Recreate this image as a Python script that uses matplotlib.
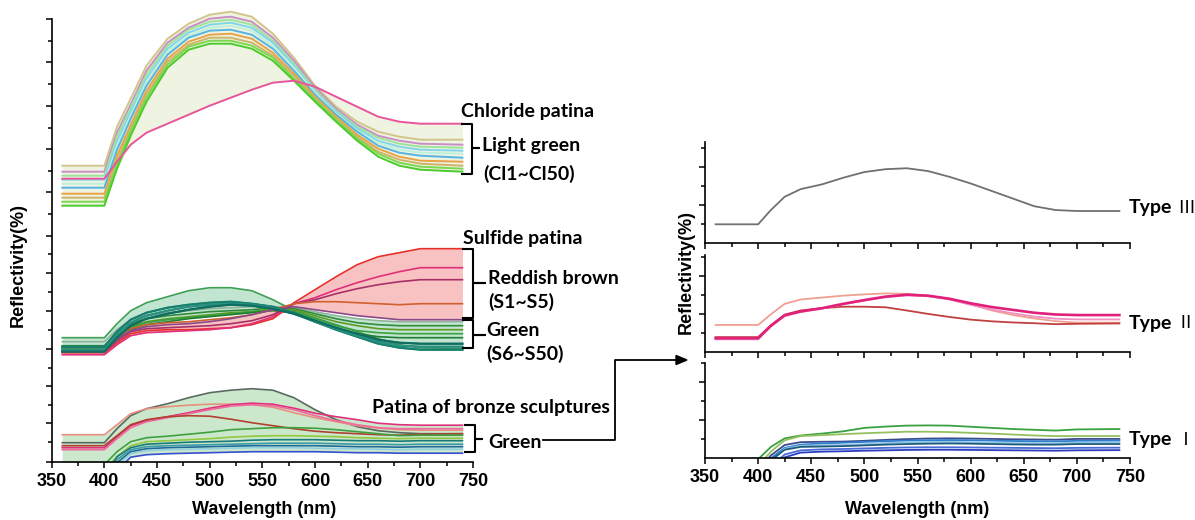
import numpy as np
import matplotlib.pyplot as plt
from matplotlib.lines import Line2D

W, H = 1195, 520

# wavelength grid (nm) used by all curves
wavelength = [360, 400, 412, 425, 440, 460, 480, 500, 520, 540, 560, 580, 600, 620, 640, 660, 680, 700, 740]

# ---- left panel: chloride patina, light green (Cl1~Cl50), top to bottom
cl_tan = [29.6, 29.6, 33.5, 36.3, 39.6, 42.3, 43.8, 44.7, 45.0, 44.5, 42.8, 40.4, 37.6, 35.5, 34.0, 33.0, 32.5, 32.2, 32.2]
cl_lilac = [29.0, 29.0, 32.9, 35.7, 39.1, 41.9, 43.4, 44.3, 44.5, 44.0, 42.4, 40.1, 37.4, 35.3, 33.7, 32.6, 32.1, 31.8, 31.7]
cl_lightgreen = [28.6, 28.6, 32.5, 35.4, 38.7, 41.6, 43.2, 44.0, 44.2, 43.7, 42.1, 39.8, 37.2, 35.1, 33.5, 32.4, 31.8, 31.5, 31.4]
cl_cyan = [28.2, 28.2, 32.0, 35.0, 38.3, 41.3, 42.9, 43.7, 43.9, 43.4, 41.9, 39.6, 37.0, 35.0, 33.3, 32.1, 31.5, 31.2, 31.1]
cl_mint = [27.8, 27.8, 31.6, 34.6, 38.0, 41.0, 42.6, 43.4, 43.6, 43.1, 41.6, 39.4, 36.9, 34.8, 33.1, 31.9, 31.2, 30.9, 30.8]
cl_blue = [27.4, 27.4, 31.2, 34.3, 37.6, 40.7, 42.4, 43.1, 43.2, 42.7, 41.3, 39.1, 36.7, 34.7, 33.0, 31.6, 30.9, 30.6, 30.4]
cl_orange = [26.8, 26.8, 30.6, 33.7, 37.1, 40.3, 42.0, 42.7, 42.8, 42.3, 40.9, 38.8, 36.5, 34.5, 32.7, 31.3, 30.5, 30.1, 30.0]
cl_khaki = [26.4, 26.4, 30.1, 33.3, 36.7, 40.0, 41.7, 42.4, 42.4, 41.9, 40.6, 38.6, 36.3, 34.3, 32.5, 31.0, 30.2, 29.8, 29.6]
cl_green = [26.0, 26.0, 29.7, 33.0, 36.4, 39.7, 41.5, 42.1, 42.1, 41.6, 40.4, 38.3, 36.2, 34.2, 32.3, 30.8, 29.9, 29.5, 29.3]
cl_brightgreen = [25.6, 25.6, 29.3, 32.6, 36.0, 39.4, 41.2, 41.8, 41.8, 41.3, 40.1, 38.1, 36.0, 34.0, 32.1, 30.5, 29.6, 29.2, 29.0]
cl_pink = [28.3, 28.3, 30.0, 31.7, 32.9, 33.8, 34.7, 35.6, 36.4, 37.2, 37.9, 38.1, 37.5, 36.5, 35.5, 34.5, 34.0, 33.8, 33.8]

# ---- left panel: sulfide patina, green (S6~S50)
s_green_top = [12.4, 12.4, 13.8, 15.1, 15.9, 16.5, 17.1, 17.4, 17.4, 17.1, 16.2, 15.1, 14.4, 13.7, 13.0, 12.3, 11.7, 11.4, 11.3]
s_grey = [12.0, 12.0, 13.2, 14.2, 14.6, 14.9, 15.1, 15.3, 15.4, 15.5, 15.5, 15.4, 15.0, 14.6, 14.3, 14.1, 14.0, 14.0, 14.0]
s_green_a = [11.6, 11.6, 12.8, 13.8, 14.3, 14.6, 14.8, 15.0, 15.1, 15.2, 15.4, 15.3, 14.8, 14.3, 13.9, 13.7, 13.6, 13.6, 13.6]
s_olive = [11.4, 11.4, 12.6, 13.5, 14.0, 14.3, 14.5, 14.7, 14.9, 15.0, 15.3, 15.2, 14.6, 14.0, 13.6, 13.3, 13.2, 13.2, 13.2]
s_green_b = [11.3, 11.3, 12.5, 13.4, 13.9, 14.2, 14.4, 14.6, 14.8, 15.0, 15.2, 15.0, 14.3, 13.6, 13.1, 12.9, 12.8, 12.8, 12.8]
s_green_c = [11.1, 11.1, 12.3, 13.2, 13.7, 14.0, 14.3, 14.5, 14.7, 14.9, 15.1, 14.9, 14.1, 13.3, 12.8, 12.5, 12.4, 12.4, 12.4]
s_teal_a = [11.5, 11.5, 13.0, 14.2, 14.9, 15.4, 15.7, 15.9, 16.0, 15.8, 15.5, 14.9, 14.0, 13.2, 12.5, 11.8, 11.4, 11.2, 11.2]
s_teal_b = [11.2, 11.2, 12.7, 13.9, 14.6, 15.1, 15.5, 15.7, 15.8, 15.7, 15.4, 14.8, 14.0, 13.3, 12.6, 12.0, 11.6, 11.5, 11.5]
s_teal_c = [11.0, 11.0, 12.4, 13.6, 14.3, 14.8, 15.2, 15.5, 15.7, 15.6, 15.3, 14.8, 14.1, 13.4, 12.8, 12.2, 11.9, 11.8, 11.8]

# ---- left panel: sulfide patina, reddish brown (S1~S5)
s_red = [10.9, 10.9, 11.9, 12.8, 13.1, 13.2, 13.2, 13.3, 13.4, 13.7, 14.3, 15.9, 17.2, 18.5, 19.7, 20.5, 20.9, 21.3, 21.3]
s_magenta = [10.7, 10.7, 11.7, 12.6, 12.9, 13.0, 13.1, 13.2, 13.4, 13.8, 14.5, 15.8, 16.4, 17.2, 17.9, 18.5, 19.0, 19.4, 19.4]
s_plum = [11.0, 11.0, 12.1, 13.0, 13.3, 13.4, 13.5, 13.6, 13.8, 14.1, 14.7, 15.8, 16.2, 16.8, 17.3, 17.7, 18.0, 18.2, 18.2]
s_brown = [11.2, 11.2, 12.3, 13.3, 13.7, 13.9, 14.0, 14.2, 14.4, 14.7, 15.2, 15.8, 16.0, 16.0, 15.9, 15.8, 15.7, 15.8, 15.8]
s_purple = [11.1, 11.1, 12.2, 13.1, 13.5, 13.7, 13.8, 14.0, 14.3, 14.7, 15.2, 15.5, 15.2, 14.9, 14.6, 14.4, 14.2, 14.2, 14.2]

# ---- left panel: patina of bronze sculptures (green)
b_grey = [1.9, 1.9, 3.3, 4.6, 5.3, 5.8, 6.4, 6.9, 7.15, 7.3, 7.15, 6.4, 5.2, 4.2, 3.5, 3.1, 2.9, 2.8, 2.8]
b_salmon = [2.7, 2.7, 3.7, 4.8, 5.3, 5.5, 5.65, 5.75, 5.75, 5.7, 5.45, 4.9, 4.4, 4.0, 3.6, 3.35, 3.2, 3.15, 3.15]
b_magenta = [1.4, 1.4, 2.5, 3.6, 4.1, 4.5, 4.9, 5.35, 5.7, 5.85, 5.75, 5.35, 4.85, 4.5, 4.2, 3.85, 3.7, 3.65, 3.65]
b_pink = [1.2, 1.2, 2.3, 3.4, 4.0, 4.4, 4.8, 5.2, 5.55, 5.7, 5.6, 5.2, 4.6, 4.1, 3.7, 3.4, 3.3, 3.3, 3.3]
b_brown = [1.6, 1.6, 2.6, 3.7, 4.2, 4.5, 4.6, 4.55, 4.25, 3.9, 3.6, 3.3, 3.05, 2.9, 2.8, 2.7, 2.65, 2.75, 2.8]
b_green = [-0.3, -0.3, 1.0, 2.0, 2.4, 2.55, 2.75, 2.95, 3.2, 3.3, 3.4, 3.4, 3.35, 3.2, 3.0, 2.8, 2.6, 2.65, 2.65]
b_lightgreen = [-0.8, -0.8, 0.5, 1.6, 2.0, 2.1, 2.2, 2.3, 2.45, 2.55, 2.6, 2.6, 2.55, 2.5, 2.4, 2.35, 2.3, 2.35, 2.35]
b_teal_a = [-1.5, -1.5, 0.5, 1.4, 1.75, 1.85, 1.95, 2.0, 2.05, 2.15, 2.2, 2.2, 2.2, 2.15, 2.1, 2.1, 2.05, 2.1, 2.1]
b_teal_b = [-1.8, -1.8, 0.2, 1.2, 1.5, 1.6, 1.65, 1.7, 1.75, 1.8, 1.85, 1.85, 1.85, 1.8, 1.75, 1.75, 1.7, 1.75, 1.75]
b_steel = [-2.0, -2.0, -0.1, 1.0, 1.3, 1.4, 1.45, 1.5, 1.55, 1.6, 1.6, 1.6, 1.6, 1.55, 1.5, 1.5, 1.45, 1.5, 1.5]
b_cyan = [-2.2, -2.2, -0.4, 0.8, 1.1, 1.2, 1.25, 1.3, 1.35, 1.4, 1.4, 1.4, 1.35, 1.3, 1.3, 1.25, 1.2, 1.25, 1.25]
b_blue = [-2.5, -2.5, -0.9, 0.45, 0.7, 0.8, 0.85, 0.9, 0.95, 1.0, 1.0, 1.0, 1.0, 0.95, 0.9, 0.9, 0.85, 0.85, 0.85]

# ---- right panels
t3_grey = [1.0, 1.0, 1.75, 2.45, 2.85, 3.1, 3.45, 3.75, 3.9, 3.95, 3.8, 3.5, 3.15, 2.75, 2.35, 1.95, 1.75, 1.7, 1.7]

t2_salmon = [1.44, 1.44, 2.0, 2.55, 2.78, 2.88, 2.98, 3.05, 3.1, 3.08, 2.98, 2.82, 2.52, 2.2, 1.96, 1.78, 1.64, 1.56, 1.56]
t2_magenta = [0.74, 0.74, 1.4, 1.95, 2.15, 2.32, 2.55, 2.75, 2.93, 3.03, 2.98, 2.82, 2.58, 2.38, 2.23, 2.08, 1.99, 1.96, 1.96]
t2_pink = [0.68, 0.68, 1.35, 1.9, 2.12, 2.3, 2.52, 2.72, 2.9, 3.0, 2.95, 2.78, 2.5, 2.25, 2.05, 1.88, 1.77, 1.73, 1.73]
t2_brown = [0.8, 0.8, 1.42, 1.98, 2.2, 2.32, 2.4, 2.4, 2.37, 2.2, 2.02, 1.86, 1.72, 1.63, 1.57, 1.53, 1.48, 1.5, 1.52]

t1_green = [-1.5, -0.05, 0.6, 1.05, 1.2, 1.3, 1.42, 1.6, 1.67, 1.72, 1.73, 1.72, 1.66, 1.6, 1.54, 1.5, 1.46, 1.52, 1.54]
t1_yellowgreen = [-1.5, -0.4, 0.35, 0.95, 1.17, 1.22, 1.27, 1.32, 1.36, 1.4, 1.4, 1.38, 1.34, 1.3, 1.25, 1.2, 1.17, 1.17, 1.17]
t1_navy = [-1.5, -0.6, 0.15, 0.7, 0.85, 0.87, 0.88, 0.92, 0.97, 1.01, 1.04, 1.05, 1.04, 1.02, 1.0, 0.99, 0.98, 1.02, 1.02]
t1_blue = [-1.5, -0.8, 0.0, 0.55, 0.72, 0.78, 0.82, 0.86, 0.9, 0.93, 0.95, 0.96, 0.95, 0.93, 0.91, 0.9, 0.89, 0.92, 0.93]
t1_lightblue = [-1.5, -1.0, -0.2, 0.5, 0.66, 0.68, 0.7, 0.74, 0.8, 0.84, 0.86, 0.86, 0.84, 0.82, 0.8, 0.8, 0.79, 0.82, 0.83]
t1_teal = [-1.5, -1.0, -0.1, 0.45, 0.6, 0.62, 0.64, 0.68, 0.72, 0.75, 0.77, 0.78, 0.77, 0.75, 0.73, 0.72, 0.72, 0.75, 0.75]
t1_royal = [-1.5, -1.2, -0.45, 0.2, 0.42, 0.47, 0.49, 0.52, 0.55, 0.57, 0.58, 0.58, 0.57, 0.56, 0.55, 0.54, 0.53, 0.55, 0.56]
t1_deepblue = [-1.5, -1.3, -0.6, 0.05, 0.3, 0.35, 0.37, 0.4, 0.42, 0.44, 0.45, 0.45, 0.44, 0.43, 0.42, 0.41, 0.4, 0.42, 0.43]

chloride = [cl_tan, cl_lilac, cl_lightgreen, cl_cyan, cl_mint, cl_blue, cl_orange, cl_khaki, cl_green, cl_brightgreen, cl_pink]
chloride_colors = ['#d2c58c', '#c78fc4', '#9ee39a', '#7fd6ea', '#bff0dc', '#55b4e2', '#e8a346', '#cdb46a', '#7bd84e', '#4ccb2c', '#e8559a']
sulfide_green = [s_green_top, s_grey, s_green_a, s_olive, s_green_b, s_green_c, s_teal_a, s_teal_b, s_teal_c]
sulfide_green_colors = ['#3f9f55', '#8fb39a', '#2e8b3a', '#5f9a25', '#3aa040', '#1f7f30', '#17806e', '#2a9080', '#0f6e60']
sulfide_red = [s_red, s_magenta, s_plum, s_brown, s_purple]
sulfide_red_colors = ['#e8302a', '#e0307a', '#a83068', '#d06030', '#8a4a8a']
bronze = [b_grey, b_salmon, b_magenta, b_pink, b_brown, b_green, b_lightgreen, b_teal_a, b_teal_b, b_steel, b_cyan, b_blue]
bronze_colors = ['#5a6a60', '#e89080', '#e0307a', '#f06aa0', '#b04030', '#40a040', '#90c840', '#187a78', '#3a9aa8', '#1f6a9a', '#90d0e0', '#3550d0']
type2 = [t2_salmon, t2_brown, t2_pink, t2_magenta]
type2_colors = ['#f0a090', '#c04040', '#f090c0', '#e0207a']
type1 = [t1_green, t1_yellowgreen, t1_navy, t1_blue, t1_lightblue, t1_teal, t1_royal, t1_deepblue]
type1_colors = ['#3aa040', '#94c060', '#3c4c8c', '#2f7fcf', '#8cc4e6', '#1f5a7a', '#4a6ad6', '#2a3cc0']

TICKFONT = dict(family='Liberation Sans', weight='bold', size=13)
LABFONT = dict(family='Lato', weight='bold', size=14)


def fx(px):
    return px / W


def fy(py):
    return 1 - py / H


def style_axis(a, show_labels):
    a.set_xlim(350, 750)
    for s in ['top', 'right']:
        a.spines[s].set_visible(False)
    for s in ['left', 'bottom']:
        a.spines[s].set_linewidth(1.2)
    a.set_xticks(range(350, 751, 50))
    a.set_xticks(range(375, 751, 50), minor=True)
    a.tick_params(which='both', direction='out', width=1.1, colors='black')
    a.tick_params(which='major', length=4)
    a.tick_params(which='minor', length=3)
    if show_labels:
        a.set_xticklabels([str(v) for v in range(350, 751, 50)], **TICKFONT)
        a.tick_params(axis='x', pad=4)
    else:
        a.set_xticklabels([])
    a.set_yticklabels([], minor=True)


def group(a, curves, colors, fill, lw=1.2):
    c = np.array(curves)
    a.fill_between(wavelength, c.max(axis=0), c.min(axis=0), color=fill, lw=0, zorder=1)
    for y, col in zip(curves, colors):
        a.plot(wavelength, y, color=col, lw=lw, zorder=2)


fig = plt.figure(figsize=(W / 100, H / 100), dpi=100)

# ---------------- left panel
ax = fig.add_axes([fx(51.7), fy(461.7), fx(473) - fx(51.7), (461.7 - 1.7) / H])
style_axis(ax, True)
ax.set_ylim(0, 46)
left_major = [0, 3.87, 7.57, 11.27, 15.07, 18.87, 22.6, 26.97, 31.27, 35.57, 39.97, 44.27]
ax.set_yticks(left_major)
ax.set_yticks([(a + b) / 2 for a, b in zip(left_major[:-1], left_major[1:])], minor=True)
ax.set_yticklabels([])
ax.spines['left'].set_bounds(0, 44.27)

group(ax, chloride, chloride_colors, '#eef3e2', lw=1.4)
group(ax, sulfide_green, sulfide_green_colors, '#c2e5d2')
group(ax, sulfide_red, sulfide_red_colors, '#f9c2c2')
for y, col in zip(sulfide_green[6:], sulfide_green_colors[6:]):
    ax.plot(wavelength, y, color=col, lw=1.6, zorder=3)
group(ax, bronze, bronze_colors, '#cce8cc')

fig.text(fx(264), fy(509), 'Wavelength (nm)', ha='center', va='center', **TICKFONT)
fig.text(fx(18.5), fy(265), 'Reflectivity(%)', ha='center', va='center', rotation=90, **TICKFONT)


# ---------------- right panels
def right_axes(py_bottom, py_top, labels):
    a = fig.add_axes([fx(705), fy(py_bottom), (1130 - 705) / W, (py_bottom - py_top) / H])
    style_axis(a, labels)
    a.set_ylim(0, (py_bottom - py_top) / 19)
    a.set_yticks([2, 4])
    a.set_yticks([1, 3, 5], minor=True)
    a.set_yticklabels([])
    return a


ax3 = right_axes(243.3, 141.7, False)
ax3.plot(wavelength, t3_grey, color='#707070', lw=1.3)

ax2 = right_axes(352.3, 255, False)
for y, col in zip(type2, type2_colors):
    ax2.plot(wavelength, y, color=col, lw=1.9 if col == '#e0207a' else 1.3)

ax1 = right_axes(458.3, 363.3, True)
for y, col in zip(type1, type1_colors):
    ax1.plot(wavelength, y, color=col, lw=1.3)

fig.text(fx(917), fy(510), 'Wavelength (nm)', ha='center', va='center', **TICKFONT)
fig.text(fx(686), fy(272), 'Reflectivity(%)', ha='center', va='center', rotation=90, **TICKFONT)

for py, num in [(208, 'Ⅲ'), (323, 'Ⅱ'), (440, 'Ⅰ')]:
    fig.text(fx(1129), fy(py), 'Type', ha='left', va='center', **LABFONT)
    fig.text(fx(1186), fy(py), num, ha='center', va='center', size=13,
             family=['Noto Sans CJK SC', 'DejaVu Sans'])

# ---------------- annotations on the left panel
labels = [
    (460.7, 111, 'Chloride patina'),
    (481.7, 146, 'Light green'),
    (483, 174, '(Cl1~Cl50)'),
    (462.7, 239, 'Sulfide patina'),
    (488.3, 278, 'Reddish brown'),
    (488.3, 302, '(S1~S5)'),
    (486.7, 330, 'Green'),
    (486.7, 354, '(S6~S50)'),
    (371.7, 408, 'Patina of bronze sculptures'),
    (488.3, 443, 'Green'),
]
for px, py, s in labels:
    fig.text(fx(px), fy(py), s, ha='left', va='center', **LABFONT)

brackets = [
    (461.7, 471.7, 479, 124.3, 148.3, 174.3),
    (463, 473, 485, 249, 283, 318),
    (463, 473, 485, 320, 335, 348),
    (465, 475, 482, 425, 439, 452),
]
for x0, x1, x2, top, mid, bot in brackets:
    xs = [x0, x1, x1, x2, x1, x1, x0]
    ys = [top, top, mid, mid, mid, bot, bot]
    fig.add_artist(Line2D([fx(v) for v in xs], [fy(v) for v in ys], color='black', lw=1.5,
                          transform=fig.transFigure))

# connector from bronze "Green" to the Type I panel
fig.add_artist(Line2D([fx(543), fx(615), fx(615), fx(676)], [fy(440), fy(440), fy(360), fy(360)],
                      color='black', lw=1.3, transform=fig.transFigure))
fig.add_artist(plt.Polygon([[fx(676), fy(355.5)], [fx(687), fy(360)], [fx(676), fy(364.5)]],
                           closed=True, color='black', transform=fig.transFigure))

fig.savefig('out.png', dpi=100)
